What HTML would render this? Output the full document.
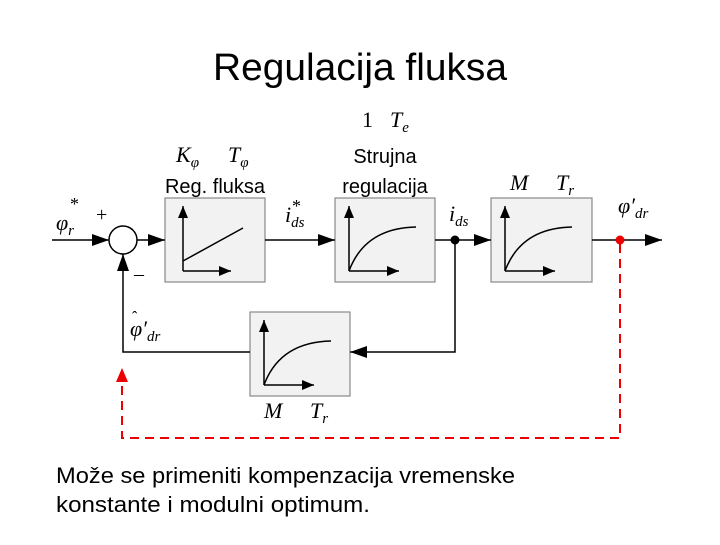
<!DOCTYPE html>
<html><head><meta charset="utf-8"><style>
body{margin:0;width:720px;height:540px;background:#fff;overflow:hidden;font-family:"Liberation Sans",sans-serif}
</style></head><body>
<svg width="720" height="540" xmlns="http://www.w3.org/2000/svg">
<defs>
<marker id="a" markerWidth="12" markerHeight="10" refX="12" refY="5" orient="auto" markerUnits="userSpaceOnUse"><path d="M0,0L12,5L0,10z" fill="#000"/></marker>
<marker id="as" markerWidth="17" markerHeight="12" refX="17" refY="6" orient="auto" markerUnits="userSpaceOnUse"><path d="M0,0L17,6L0,12z" fill="#000"/></marker>
<marker id="ar" markerWidth="14" markerHeight="12" refX="14" refY="6" orient="auto" markerUnits="userSpaceOnUse"><path d="M0,0L14,6L0,12z" fill="#e00"/></marker>
</defs>
<text x="360" y="80" font-size="38" text-anchor="middle" textLength="294" lengthAdjust="spacingAndGlyphs" font-family="Liberation Sans, sans-serif">Regulacija fluksa</text>
<g font-family="Liberation Serif, serif" font-style="italic" font-size="22">
<text x="362" y="127" font-style="normal">1</text><text x="390" y="127">T<tspan font-size="15" dy="5">e</tspan></text>
<text x="176" y="162">K<tspan font-size="15" dy="5">φ</tspan></text>
<text x="228" y="162">T<tspan font-size="15" dy="5">φ</tspan></text>
<text x="510" y="190">M</text><text x="556" y="190">T<tspan font-size="15" dy="5">r</tspan></text>
<text x="264" y="418">M</text><text x="310" y="418">T<tspan font-size="15" dy="5">r</tspan></text>
<text x="56" y="230">φ<tspan font-size="15" dy="5">r</tspan></text><text x="70" y="210" font-size="18" font-style="normal">*</text>
<text x="96" y="221" font-style="normal" font-size="20">+</text>
<text x="134" y="280" font-style="normal" font-size="20">–</text>
<text x="285" y="222">i<tspan font-size="15" dy="5">ds</tspan></text><text x="292" y="212" font-size="18" font-style="normal">*</text>
<text x="449" y="221">i<tspan font-size="15" dy="5">ds</tspan></text>
<text x="618" y="213">φ′<tspan font-size="15" dy="5">dr</tspan></text>
<text x="130" y="336">φ′<tspan font-size="15" dy="5">dr</tspan></text>
<text x="132" y="322" font-size="16" font-style="normal">ˆ</text>
</g>
<g font-size="20" text-anchor="middle">
<text x="215" y="193">Reg. fluksa</text>
<text x="385" y="163">Strujna</text>
<text x="385" y="193">regulacija</text>
</g>
<g fill="#f2f2f2" stroke="#888" stroke-width="1.2">
<rect x="165" y="198" width="100" height="84"/>
<rect x="335" y="198" width="100" height="84"/>
<rect x="491" y="198" width="101" height="84"/>
<rect x="250" y="312" width="100" height="84"/>
</g>
<g stroke="#000" stroke-width="1.5" fill="none">
<path d="M183,271V206" marker-end="url(#a)"/><path d="M183,271H231" marker-end="url(#a)"/><path d="M183,261L243,228"/>
<path d="M349,271V206" marker-end="url(#a)"/><path d="M349,271H399" marker-end="url(#a)"/><path d="M349,271Q365,228 416,227"/>
<path d="M505,271V206" marker-end="url(#a)"/><path d="M505,271H555" marker-end="url(#a)"/><path d="M505,271Q521,228 572,227"/>
<path d="M264,385V320" marker-end="url(#a)"/><path d="M264,385H314" marker-end="url(#a)"/><path d="M264,385Q280,342 331,341"/>
<circle cx="123" cy="240" r="14" fill="#fff"/>
<path d="M52,240H109" marker-end="url(#as)"/>
<path d="M137,240H165" marker-end="url(#as)"/>
<path d="M265,240H335" marker-end="url(#as)"/>
<path d="M435,240H491" marker-end="url(#as)"/>
<path d="M592,240H662" marker-end="url(#as)"/>
<path d="M455,240V352H350" marker-end="url(#as)"/>
<path d="M250,352H123V254" marker-end="url(#as)"/>
</g>
<circle cx="455" cy="240" r="4.5"/>
<circle cx="620" cy="240" r="4.5" fill="#e00"/>
<path d="M620,244V438H122V368" stroke="#e00" stroke-width="2" fill="none" stroke-dasharray="9,6" marker-end="url(#ar)"/>
<text x="56" y="483" font-size="22" textLength="459" lengthAdjust="spacingAndGlyphs">Može se primeniti kompenzacija vremenske</text>
<text x="56" y="512" font-size="22" textLength="314" lengthAdjust="spacingAndGlyphs">konstante i modulni optimum.</text>
</svg>
</body></html>
